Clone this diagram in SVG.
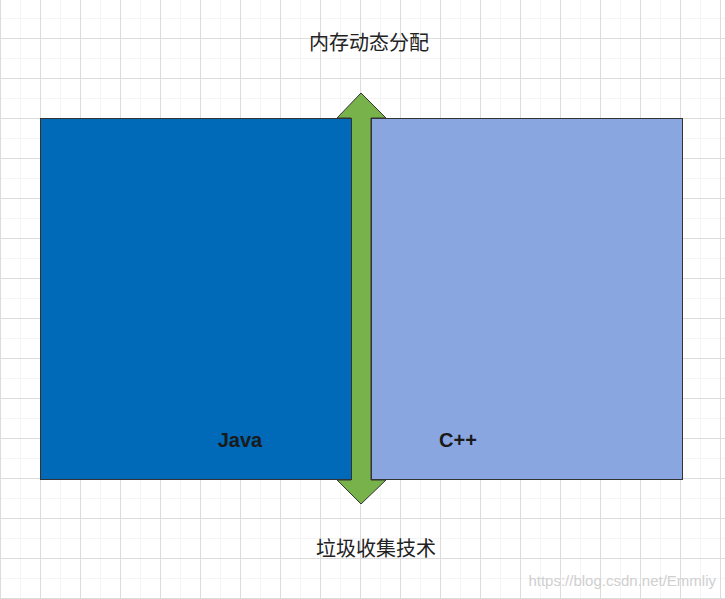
<svg xmlns="http://www.w3.org/2000/svg" width="725" height="599" viewBox="0 0 725 599">
<defs>
<pattern id="minor" width="20" height="20" patternUnits="userSpaceOnUse" x="0" y="-2"><path d="M0 0V20M0 0H20" fill="none" stroke="#ececec" stroke-width="1"/></pattern>
<pattern id="major" width="40" height="40" patternUnits="userSpaceOnUse" x="0" y="-2"><path d="M0.5 0V40M0 0.5H40" fill="none" stroke="#dcdcdc" stroke-width="1"/></pattern>
</defs>
<style>
.lbl{font-family:"Liberation Sans","Noto Sans CJK SC",sans-serif;font-size:20px;fill:#222;text-anchor:middle}
.b{font-weight:bold;fill:#1a1a1a}
</style>
<rect width="725" height="599" fill="#fff"/>
<rect width="725" height="599" fill="url(#minor)"/>
<rect width="725" height="599" fill="url(#major)"/>
<g id="connectors">
<polygon points="361,93 386,118 371,118 371,480 386,480 361,504 337,480 351,480 351,118 337,118" fill="#77b34a" stroke="#333" stroke-width="1"/>
</g>
<g id="java"><rect x="40.5" y="118.5" width="311" height="361" fill="#0069b8" stroke="#333"/><text class="lbl b" x="240" y="447">Java</text></g>
<g id="cpp"><rect x="371.5" y="118.5" width="311" height="361" fill="#8aa6e0" stroke="#333"/><text class="lbl b" x="458" y="447">C++</text></g>
<text class="lbl" x="369" y="50">内存动态分配</text>
<text class="lbl" x="376" y="556">垃圾收集技术</text>
<text x="716" y="586" font-family="Liberation Sans,sans-serif" font-size="15" fill="#cfcfcf" text-anchor="end">https://blog.csdn.net/Emmliy</text>
</svg>
